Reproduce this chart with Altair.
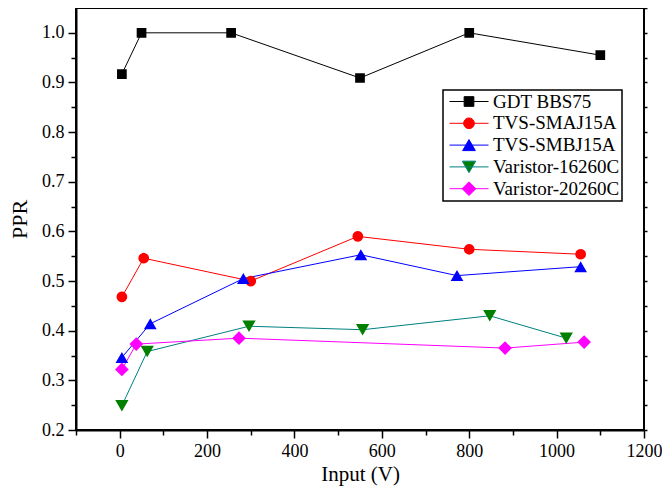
import math
import altair as alt
import pandas as pd

FONT = "Liberation Serif"

series_names = ["GDT BBS75", "TVS-SMAJ15A", "TVS-SMBJ15A", "Varistor-16260C", "Varistor-20260C"]

gdt_x = [5, 50, 255, 550, 800, 1100]
gdt_y = [0.917, 1.0, 1.0, 0.909, 1.0, 0.955]
smaj_x = [5, 55, 300, 545, 800, 1055]
smaj_y = [0.468, 0.546, 0.500, 0.590, 0.564, 0.554]
smbj_x = [5, 70, 283, 552, 772, 1055]
smbj_y = [0.346, 0.414, 0.505, 0.553, 0.511, 0.529]
v16_x = [5, 63, 296, 556, 847, 1022]
v16_y = [0.249, 0.358, 0.409, 0.402, 0.430, 0.385]
v20_x = [5, 38, 273, 882, 1063]
v20_y = [0.322, 0.373, 0.385, 0.365, 0.377]

line_colors = ["#000000", "#FF0000", "#0000FF", "#008080", "#FF00FF"]
marker_colors = ["#000000", "#FF0000", "#0000FF", "#007F00", "#FF00FF"]

# marker glyphs (unit = 5 px at size 100); the zero-area segment "M-3.9,0H3.9"
# is only visible where the symbol is stroked, i.e. in the legend
SEG = "M-3.9,0H3.9"
circle_pts = " ".join(
    ("M" if k == 0 else "L") + f"{1.07*math.cos(2*math.pi*k/20):.3f},{1.07*math.sin(2*math.pi*k/20):.3f}"
    for k in range(20)
) + "Z"
marker_glyphs = [
    SEG + "M-0.97,-0.97L0.97,-0.97L0.97,0.97L-0.97,0.97Z",
    SEG + circle_pts,
    SEG + "M0,-1.1L1.27,1.1L-1.27,1.1Z",
    SEG + "M0,1.15L1.33,-1.15L-1.33,-1.15Z",
    SEG + "M0,-1.37L1.37,0L0,1.37L-1.37,0Z",
]

x_major = [0, 200, 400, 600, 800, 1000, 1200]
x_minor = [-100, 100, 300, 500, 700, 900, 1100]
x_all = [-100, 0, 100, 200, 300, 400, 500, 600, 700, 800, 900, 1000, 1100, 1200]
y_major = [0.2, 0.3, 0.4, 0.5, 0.6, 0.7, 0.8, 0.9, 1.0]
y_minor = [0.25, 0.35, 0.45, 0.55, 0.65, 0.75, 0.85, 0.95]
y_all = [0.2, 0.25, 0.3, 0.35, 0.4, 0.45, 0.5, 0.55, 0.6, 0.65, 0.7, 0.75, 0.8, 0.85, 0.9, 0.95, 1.0, 1.05]

xs = [gdt_x, smaj_x, smbj_x, v16_x, v20_x]
ys = [gdt_y, smaj_y, smbj_y, v16_y, v20_y]
rows = []
for name, sx, sy in zip(series_names, xs, ys):
    for a, b in zip(sx, sy):
        rows.append({"series": name, "x": a, "y": b})
df = pd.DataFrame(rows)

x_scale = alt.Scale(domain=[-100, 1200], nice=False, zero=False)
y_scale = alt.Scale(domain=[0.2, 1.05], nice=False, zero=False)
stroke_scale = alt.Scale(domain=series_names, range=line_colors)
fill_scale = alt.Scale(domain=series_names, range=marker_colors)
shape_scale = alt.Scale(domain=series_names, range=marker_glyphs)

base = alt.Chart(df)

leg = alt.Legend(
    orient="none", legendX=367, legendY=82, title=None,
    symbolSize=100, symbolStrokeWidth=1, symbolFillColor="black",
    labelFont=FONT, labelFontSize=19,
    labelColor="black", padding=2, rowPadding=1.8, symbolOffset=14.5,
    labelOffset=14.5, strokeColor="black",
)

main_x_axis = alt.Axis(
    values=x_major, orient="bottom", format="d", tickSize=8, tickWidth=1.5,
    tickColor="black", domainColor="black", domainWidth=2,
    labelFont=FONT, labelFontSize=18, labelColor="black", labelPadding=4,
    labelFlush=False, labelOverlap=False, grid=False,
    title="Input (V)", titleFont=FONT, titleFontSize=21,
    titleFontWeight="normal", titleColor="black", titlePadding=3)
main_y_axis = alt.Axis(
    values=y_major, orient="left", format=".1f", tickSize=8, tickWidth=1.5,
    tickColor="black", domainColor="black", domainWidth=2,
    labelFont=FONT, labelFontSize=18, labelColor="black", labelPadding=4,
    labelFlush=False, labelOverlap=False, grid=False,
    title="PPR", titleFont=FONT, titleFontSize=22,
    titleFontWeight="normal", titleColor="black", titlePadding=10)

line_layers = []
for i, (name, col) in enumerate(zip(series_names, line_colors)):
    if i == 0:
        enc = dict(x=alt.X("x:Q", scale=x_scale, axis=main_x_axis),
                   y=alt.Y("y:Q", scale=y_scale, axis=main_y_axis))
    else:
        enc = dict(x=alt.X("x:Q", scale=x_scale, axis=None),
                   y=alt.Y("y:Q", scale=y_scale, axis=None))
    line_layers.append(
        base.transform_filter(alt.datum.series == name)
        .mark_line(strokeWidth=1, color=col)
        .encode(**enc)
    )

points = base.mark_point(filled=True, opacity=1, strokeWidth=1, size=100).encode(
    x=alt.X("x:Q", scale=x_scale, axis=None),
    y=alt.Y("y:Q", scale=y_scale, axis=None),
    fill=alt.Fill("series:N", scale=fill_scale, legend=leg),
    stroke=alt.Stroke("series:N", scale=stroke_scale, legend=leg),
    shape=alt.Shape("series:N", scale=shape_scale, legend=leg),
    strokeWidth=alt.value(0),
)

minor = base.mark_point(opacity=0).encode(
    x=alt.X("x:Q", scale=x_scale, axis=alt.Axis(
        values=x_minor, orient="bottom", tickSize=5, tickWidth=1.5, tickColor="black",
        labels=False, domain=False, grid=False, title=None)),
    y=alt.Y("y:Q", scale=y_scale, axis=alt.Axis(
        values=y_minor, orient="left", tickSize=5, tickWidth=1.5, tickColor="black",
        labels=False, domain=False, grid=False, title=None)),
)

mirror = base.mark_point(opacity=0).encode(
    x=alt.X("x:Q", scale=x_scale, axis=alt.Axis(
        values=x_all, orient="top", tickSize=3, tickWidth=1.5, tickColor="black",
        labels=False, domain=False, grid=False, title=None)),
    y=alt.Y("y:Q", scale=y_scale, axis=alt.Axis(
        values=y_all, orient="right", tickSize=3, tickWidth=1.5, tickColor="black",
        labels=False, domain=False, grid=False, title=None)),
)

chart = alt.layer(minor, mirror, *line_layers, points).resolve_axis(
    x="independent", y="independent"
).properties(
    width=568, height=422,
    autosize=alt.AutoSizeParams(type="none"),
    padding={"left": 68, "top": 0, "right": 18, "bottom": 59},
    background="white",
).configure_view(
    stroke="black", strokeWidth=2
).configure_legend(
    strokeWidth=1.5
)

chart.save("out.html", embed_options={"renderer": "svg", "actions": False})
